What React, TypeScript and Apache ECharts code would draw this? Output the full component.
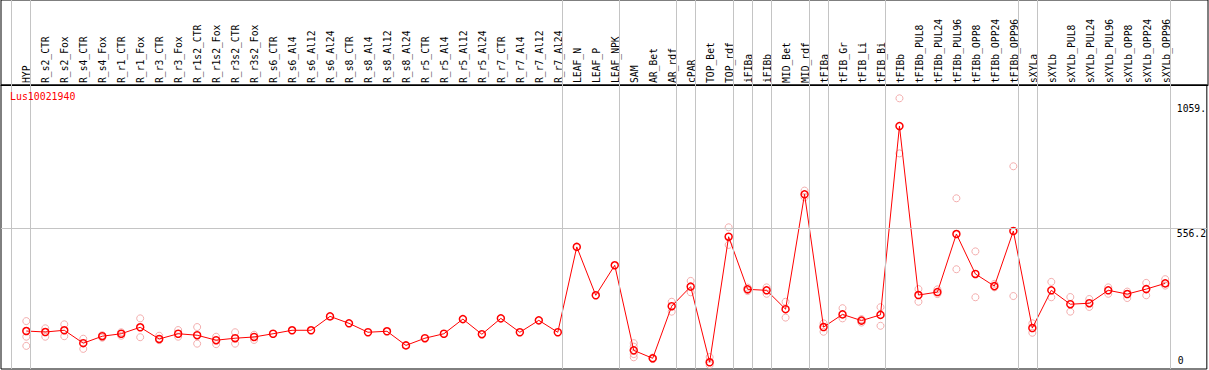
import React, { useEffect, useRef } from "react";
import * as echarts from "echarts";

const geneName = "Lus10021940";

const categories = [
  "HYP", "R_s2_CTR", "R_s2_Fox", "R_s4_CTR", "R_s4_Fox", "R_r1_CTR", "R_r1_Fox", "R_r3_CTR", "R_r3_Fox",
  "R_r1s2_CTR", "R_r1s2_Fox", "R_r3s2_CTR", "R_r3s2_Fox", "R_s6_CTR", "R_s6_Al4", "R_s6_Al12", "R_s6_Al24",
  "R_s8_CTR", "R_s8_Al4", "R_s8_Al12", "R_s8_Al24", "R_r5_CTR", "R_r5_Al4", "R_r5_Al12", "R_r5_Al24",
  "R_r7_CTR", "R_r7_Al4", "R_r7_Al12", "R_r7_Al24", "LEAF_N", "LEAF_P", "LEAF_NPK", "SAM", "AR_Bet", "AR_rdf",
  "cPAR", "TOP_Bet", "TOP_rdf", "iFIBa", "iFIBb", "MID_Bet", "MID_rdf", "tFIBa", "tFIB_Gr", "tFIB_Li", "tFIB_Bi",
  "tFIBb", "tFIBb_PUL8", "tFIBb_PUL24", "tFIBb_PUL96", "tFIBb_OPP8", "tFIBb_OPP24", "tFIBb_OPP96", "sXYLa",
  "sXYLb", "sXYLb_PUL8", "sXYLb_PUL24", "sXYLb_PUL96", "sXYLb_OPP8", "sXYLb_OPP24", "sXYLb_OPP96",
];

const meanValues = [
  141, 137, 144, 92, 120, 130, 156, 109, 130, 124, 104, 112, 117, 130, 144, 144, 200, 172, 136, 140, 83,
  112, 130, 189, 128, 192, 136, 184, 136, 480, 285, 406, 63, 31, 241, 320, 15, 521, 309, 305, 229, 692,
  157, 208, 183, 206, 967, 286, 298, 532, 371, 322, 544, 153, 305, 249, 253, 305, 290, 310, 333,
];

const replicateValues: number[][] = [
  [181, 118, 81], [152, 118], [168, 120], [110, 69], [124, 114], [136, 122], [192, 116], [122, 104],
  [145, 118], [157, 90], [118, 88], [136, 90], [126, 105], [], [], [], [], [], [], [], [], [], [], [], [],
  [], [], [], [], [], [], [], [92, 78, 48, 35], [28, 34], [259, 219], [343, 297], [36, 4], [559, 488],
  [316, 302], [317, 291], [259, 195], [707, 680], [172, 138], [233, 192], [189, 175], [237, 162],
  [1079, 857], [310, 259], [309, 290], [676, 390], [462, 277], [331, 317], [805, 282], [172, 134],
  [339, 277], [278, 219], [270, 238], [317, 291], [300, 274], [335, 285], [350, 324],
];

// index of the last category of each group (separator drawn right after it)
const groupEnds = [-1, 0, 28, 31, 34, 35, 37, 38, 39, 41, 42, 45, 52, 53, 60];

const yLabelValues = [556.2, 1059.4];
const yZeroLabel = [0];
const gridValue = 556.2;

const X_MIN = -1.3333;
const X_MAX = 62.193;
const Y_MIN = -12.1;
const Y_MAX = 1132.6;
const FONT = "'DejaVu Sans Mono', 'Liberation Mono', monospace";
const FS = 9.7;

export default function App() {
  const ref = useRef<HTMLDivElement>(null);
  useEffect(() => {
    const chart = echarts.init(ref.current!, null, { renderer: "svg" });
    const idx = categories.map((_, i) => i);
    const repData: number[][] = [];
    replicateValues.forEach((arr, i) => arr.forEach((v) => repData.push([i, v])));
    const xBase = {
      type: "value",
      min: X_MIN,
      max: X_MAX,
      axisTick: { show: false },
      splitLine: { show: false },
    };
    const yLabelBase = {
      type: "value",
      gridIndex: 1,
      min: Y_MIN,
      max: Y_MAX,
      position: "right",
      axisLine: { show: false },
      axisTick: { show: false },
      splitLine: { show: false },
    };
    chart.setOption({
      animation: false,
      title: {
        text: geneName,
        left: 10,
        top: 91,
        padding: 0,
        textStyle: { color: "#ff0000", fontSize: 9.9, fontFamily: FONT, fontWeight: "normal" },
      },
      grid: [
        { left: 1, right: 1, top: 0, height: 85, show: true, borderColor: "#000", borderWidth: 1 },
        { left: 1, right: 1, top: 85, height: 284, show: true, borderColor: "#000", borderWidth: 1 },
        { left: 1, right: 1, top: 0, height: 369 },
      ],
      xAxis: [
        {
          ...xBase,
          gridIndex: 0,
          position: "bottom",
          axisLine: { show: true, onZero: false, lineStyle: { color: "#000", width: 1 } },
          axisLabel: {
            inside: true,
            rotate: 90,
            margin: 2,
            customValues: idx,
            formatter: (v: number) => categories[Math.round(v)] ?? "",
            fontFamily: FONT,
            fontSize: FS,
            color: "#000",
          },
        },
        { ...xBase, gridIndex: 1, show: false },
        { ...xBase, gridIndex: 2, show: false },
      ],
      yAxis: [
        { type: "value", gridIndex: 0, min: 0, max: 1, show: false },
        {
          ...yLabelBase,
          axisLabel: {
            inside: true,
            align: "left",
            verticalAlign: "top",
            margin: 30,
            customValues: yLabelValues,
            formatter: (v: number) => String(v).slice(0, 5),
            fontFamily: FONT,
            fontSize: FS,
            color: "#000",
          },
        },
        {
          ...yLabelBase,
          axisLabel: {
            inside: true,
            align: "left",
            verticalAlign: "bottom",
            margin: 29,
            customValues: yZeroLabel,
            formatter: (v: number) => String(v).slice(0, 5),
            fontFamily: FONT,
            fontSize: FS,
            color: "#000",
          },
        },
        { type: "value", gridIndex: 2, min: 0, max: 1, show: false },
      ],
      series: [
        {
          type: "line",
          xAxisIndex: 2,
          yAxisIndex: 3,
          data: [],
          silent: true,
          markLine: {
            silent: true,
            animation: false,
            symbol: ["none", "none"],
            label: { show: false },
            lineStyle: { color: "#c4c4c4", width: 1, type: "solid" },
            data: groupEnds.map((g) => ({ xAxis: g + 0.22 })),
          },
        },
        {
          type: "scatter",
          xAxisIndex: 1,
          yAxisIndex: 1,
          data: repData,
          symbol: "circle",
          symbolSize: 7,
          silent: true,
          itemStyle: { color: "rgba(0,0,0,0)", borderColor: "#f09a9a", borderWidth: 1 },
        },
        {
          type: "line",
          xAxisIndex: 1,
          yAxisIndex: 1,
          data: meanValues.map((v, i) => [i, v]),
          symbol: "circle",
          symbolSize: 7,
          showAllSymbol: true,
          silent: true,
          lineStyle: { color: "#ff0000", width: 1 },
          itemStyle: { color: "rgba(0,0,0,0)", borderColor: "#ff0000", borderWidth: 1.5 },
          markLine: {
            silent: true,
            animation: false,
            symbol: ["none", "none"],
            label: { show: false },
            lineStyle: { color: "#c4c4c4", width: 1, type: "solid" },
            data: [{ yAxis: gridValue }],
          },
        },
      ],
    });
    return () => chart.dispose();
  }, []);
  return (
    <div
      ref={ref}
      style={{ position: "fixed", left: 0, top: 0, width: 1209, height: 370, background: "#fff" }}
    />
  );
}
